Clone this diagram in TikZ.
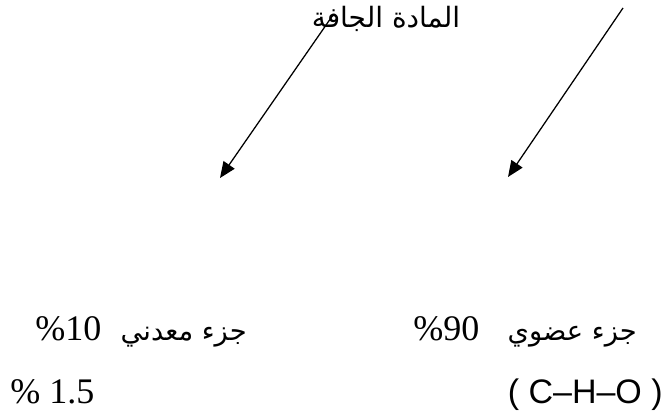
\documentclass[tikz,border=0pt]{standalone}
\usepackage{fontspec}
\usetikzlibrary{arrows.meta}
\TeXXeTstate=1
\newfontfamily\arabicfont[Script=Arabic]{DejaVu Sans}
\newfontfamily\serifnum{Liberation Serif}
\newfontfamily\sanschem{Liberation Sans}
\begin{document}
\begin{tikzpicture}[x=0.75pt,y=-0.75pt,
  ar/.style={font=\arabicfont\fontsize{20.5}{25}\selectfont, inner sep=0pt},
  num/.style={font=\serifnum\fontsize{27}{32}\selectfont, inner sep=0pt},
  chem/.style={font=\sanschem\fontsize{25.5}{30}\selectfont, inner sep=0pt},
  arr/.style={-{Triangle[length=12pt,width=10pt]}, line width=0.95pt}]
\useasboundingbox (0,0) rectangle (665,414);
% title
\node[ar, anchor=base, font=\arabicfont\fontsize{21}{25}\selectfont] (dry) at (386,27) {\beginR المادة الجافة\endR};
% arrows
\coordinate (s1) at (333,15);
\coordinate (t1) at (220,178);
\coordinate (s2) at (623,8);
\coordinate (t2) at (508,177);
\draw[arr] (s1) -- (t1);
\draw[arr] (s2) -- (t2);
% left column
\node[num, anchor=base west] (p10) at (35,340) {\%10};
\node[ar, anchor=base east] (min) at (247,340) {\beginR جزء معدني\endR};
\node[num, anchor=base west] (p15) at (10,403) {\% 1.5};
% right column
\node[num, anchor=base west] (p90) at (413,340) {\%90};
\node[ar, anchor=base east] (org) at (637,340) {\beginR جزء عضوي\endR};
\node[chem, anchor=base east] (cho) at (663,403) {( C–H–O )};
\end{tikzpicture}
\end{document}
